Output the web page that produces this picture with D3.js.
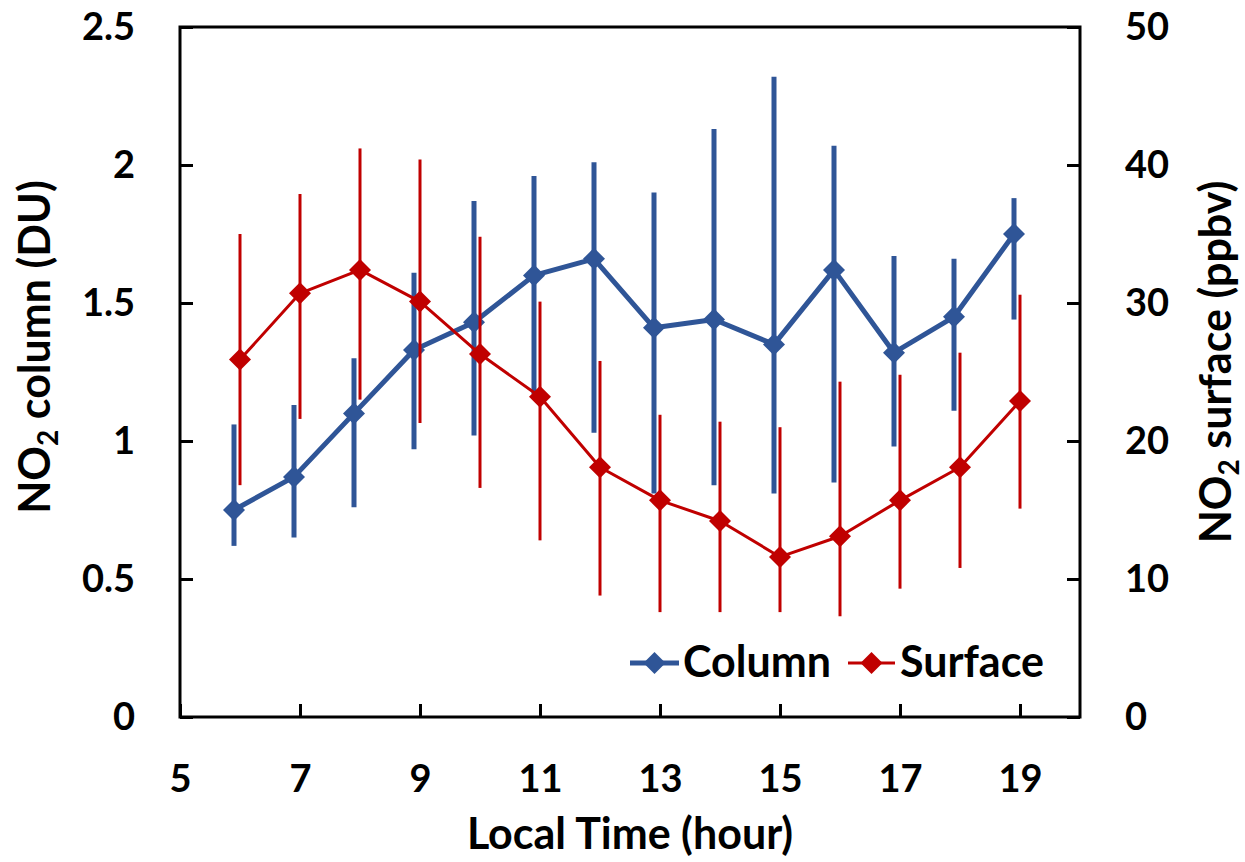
<!DOCTYPE html>
<html>
<head>
<meta charset="utf-8">
<script src="https://cdn.jsdelivr.net/npm/d3@7"></script>
<style>
  html, body { margin: 0; padding: 0; background: #fff; }
  svg { display: block; }
</style>
</head>
<body>
<script>
// Diurnal cycle of NO2: tropospheric column (left axis) and surface mixing ratio (right axis)
const hours = [6, 7, 8, 9, 10, 11, 12, 13, 14, 15, 16, 17, 18, 19];

// NO2 column (DU): mean with lower / upper error bounds
const columnMean = [0.75, 0.87, 1.10, 1.33, 1.43, 1.60, 1.66, 1.41, 1.44, 1.35, 1.62, 1.32, 1.45, 1.75];
const columnLow  = [0.62, 0.65, 0.76, 0.97, 1.02, 1.17, 1.03, 0.81, 0.84, 0.81, 0.85, 0.98, 1.11, 1.44];
const columnHigh = [1.06, 1.13, 1.30, 1.61, 1.87, 1.96, 2.01, 1.90, 2.13, 2.32, 2.07, 1.67, 1.66, 1.88];

// NO2 surface (ppbv): mean with lower / upper error bounds
const surfaceMean = [25.9, 30.7, 32.4, 30.1, 26.3, 23.2, 18.1, 15.7, 14.2, 11.6, 13.1, 15.7, 18.1, 22.9];
const surfaceLow  = [16.8, 21.6, 23.0, 21.3, 16.6, 12.8, 8.8, 7.6, 7.6, 7.6, 7.3, 9.3, 10.8, 15.1];
const surfaceHigh = [35.0, 37.9, 41.2, 40.4, 34.8, 30.1, 25.8, 21.9, 21.4, 21.0, 24.3, 24.8, 26.4, 30.6];

// Axis ticks
const xTicks = [5, 7, 9, 11, 13, 15, 17, 19];
const leftTicks = [0, 0.5, 1, 1.5, 2, 2.5];
const rightTicks = [0, 10, 20, 30, 40, 50];

const seriesNames = ["Column", "Surface"];

// ---- layout & style ----
const W = 1245, H = 862;
const plot = { left: 180, right: 1080, top: 27, bottom: 717 };
const FONT = "Lato, 'Open Sans', sans-serif";
const BLUE = "#2F5597";
const RED = "#C00000";
const TITLE_SIZE = 43;
const columnShift = -0.1;   // column series drawn slightly left of the hour so bars don't overlap

const svg = d3.select("body").append("svg").attr("width", W).attr("height", H);

const x = d3.scaleLinear().domain([5, 20]).range([plot.left, plot.right]);
const yL = d3.scaleLinear().domain([0, 2.5]).range([plot.bottom, plot.top]);
const yR = d3.scaleLinear().domain([0, 50]).range([plot.bottom, plot.top]);

function styleAxis(g) {
  g.attr("font-family", FONT).attr("font-size", 38).attr("font-weight", 700);
  g.select(".domain").remove();
  g.selectAll(".tick line").attr("stroke", "#000").attr("stroke-width", 3);
  g.selectAll(".tick text").attr("fill", "#000");
}

svg.append("g")
  .attr("transform", `translate(${plot.left},0)`)
  .call(d3.axisLeft(yL).tickValues(leftTicks).tickSize(-13).tickPadding(45).tickFormat(d3.format("~g")))
  .call(styleAxis);

svg.append("g")
  .attr("transform", `translate(${plot.right},0)`)
  .call(d3.axisRight(yR).tickValues(rightTicks).tickSize(-13).tickPadding(45).tickFormat(d3.format("~g")))
  .call(styleAxis);

svg.append("g")
  .attr("transform", `translate(0,${plot.bottom})`)
  .call(d3.axisBottom(x).tickValues(xTicks).tickSize(-13).tickPadding(48).tickFormat(d3.format("~g")))
  .call(styleAxis);

// plot frame
svg.append("rect")
  .attr("x", plot.left).attr("y", plot.top)
  .attr("width", plot.right - plot.left).attr("height", plot.bottom - plot.top)
  .attr("fill", "none").attr("stroke", "#000").attr("stroke-width", 3);

const diamond = d3.symbol(d3.symbolSquare, 242);

function drawSeries(opts) {
  const g = svg.append("g");
  const xs = hours.map(h => x(h + opts.shift));
  g.selectAll("line.err").data(hours).join("line")
    .attr("class", "err")
    .attr("x1", (d, i) => xs[i]).attr("x2", (d, i) => xs[i])
    .attr("y1", (d, i) => opts.y(opts.low[i])).attr("y2", (d, i) => opts.y(opts.high[i]))
    .attr("stroke", opts.color).attr("stroke-width", opts.errWidth);
  const line = d3.line().x((d, i) => xs[i]).y(d => opts.y(d));
  g.append("path").datum(opts.mean)
    .attr("d", line).attr("fill", "none")
    .attr("stroke", opts.color).attr("stroke-width", opts.lineWidth)
    .attr("stroke-linejoin", "round");
  g.selectAll("path.mk").data(opts.mean).join("path")
    .attr("class", "mk")
    .attr("d", diamond)
    .attr("transform", (d, i) => `translate(${xs[i]},${opts.y(d)}) rotate(45)`)
    .attr("fill", opts.color);
}

drawSeries({ mean: columnMean, low: columnLow, high: columnHigh, y: yL, color: BLUE,
             shift: columnShift, errWidth: 5, lineWidth: 5 });
drawSeries({ mean: surfaceMean, low: surfaceLow, high: surfaceHigh, y: yR, color: RED,
             shift: 0, errWidth: 3, lineWidth: 3 });

// axis titles
function no2Title(parent, rest) {
  const t = parent.append("text")
    .attr("font-family", FONT).attr("font-size", TITLE_SIZE).attr("font-weight", 700)
    .attr("text-anchor", "middle").attr("fill", "#000");
  t.append("tspan").text("NO");
  t.append("tspan").text("2").attr("font-size", 28).attr("dy", 8);
  t.append("tspan").text(" " + rest).attr("dy", -8);
  return t;
}
no2Title(svg.append("g").attr("transform", "translate(50,347) rotate(-90)"), "column (DU)");
no2Title(svg.append("g").attr("transform", "translate(1231,362) rotate(-90)"), "surface (ppbv)");

svg.append("text")
  .attr("x", (plot.left + plot.right) / 2).attr("y", 849)
  .attr("text-anchor", "middle")
  .attr("font-family", FONT).attr("font-size", TITLE_SIZE).attr("font-weight", 700)
  .text("Local Time (hour)");

// legend
const legend = [
  { name: seriesNames[0], color: BLUE, x0: 630, x1: 679, text: 683, w: 5 },
  { name: seriesNames[1], color: RED, x0: 848, x1: 895, text: 900, w: 3 }
];
const lg = svg.append("g");
legend.forEach(d => {
  lg.append("line").attr("x1", d.x0).attr("x2", d.x1).attr("y1", 663).attr("y2", 663)
    .attr("stroke", d.color).attr("stroke-width", d.w);
  lg.append("path").attr("d", diamond)
    .attr("transform", `translate(${(d.x0 + d.x1) / 2},663) rotate(45)`)
    .attr("fill", d.color);
  lg.append("text").attr("x", d.text).attr("y", 677)
    .attr("font-family", FONT).attr("font-size", TITLE_SIZE).attr("font-weight", 700)
    .text(d.name);
});
</script>
</body>
</html>
